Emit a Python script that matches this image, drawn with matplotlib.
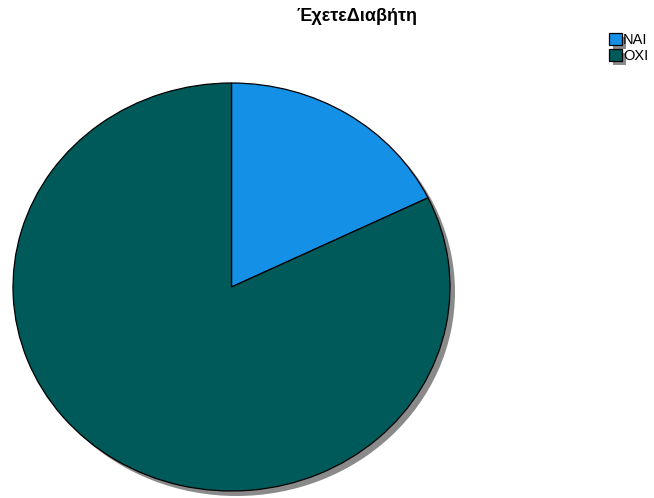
import matplotlib
matplotlib.use("Agg")
import matplotlib.pyplot as plt
from matplotlib import patheffects as pe

plt.rcParams['font.family'] = ['Liberation Sans', 'DejaVu Sans']

title = "ΈχετεΔιαβήτη"
labels = ["NAI", "OXI"]
values = [17.8, 82.2]
colors = ["#1490E6", "#005A5A"]

W, H = 654, 498
fig = plt.figure(figsize=(W / 100, H / 100), dpi=100)

# pie ellipse bounds in pixels (left, right, top, bottom)
l, r, t, b = 13, 450, 83, 491
ax = fig.add_axes([l / W, (H - b) / H, (r - l) / W, (b - t) / H])
ax.set_xlim(-1, 1)
ax.set_ylim(-1, 1)

# shadow
sdx = 5 / ((r - l) / 2)
sdy = 5 / ((b - t) / 2)
sh, _ = ax.pie([sum(values)], colors=["#8a8a8a"], radius=1, center=(sdx, -sdy),
               wedgeprops=dict(linewidth=0))
for w in sh:
    w.set_clip_on(False)
    w.set_zorder(1)

wedges, _ = ax.pie(values, colors=colors, startangle=90, counterclock=False,
                   radius=1, wedgeprops=dict(edgecolor="black", linewidth=0.9))
for w in wedges:
    w.set_clip_on(False)
    w.set_zorder(2)
ax.set_aspect('auto')
ax.set_xlim(-1, 1)
ax.set_ylim(-1, 1)
ax.axis('off')

fig.text(357.5 / W, 1 - 21 / H, title, ha='center', va='baseline',
         fontsize=13, fontweight='bold')

leg = fig.legend(wedges, labels, loc='upper left',
                 bbox_to_anchor=(609 / W, 1 - 33 / H), frameon=False,
                 fontsize=10.5, handlelength=0.9, handleheight=0.9,
                 handletextpad=0.05, labelspacing=0.1, borderpad=0,
                 borderaxespad=0)
for h in leg.legend_handles:
    h.set_linewidth(0.9)
    h.set_edgecolor('black')
    h.set_path_effects([pe.SimplePatchShadow(offset=(3, -3), shadow_rgbFace='#8a8a8a', alpha=1),
                        pe.Normal()])

fig.savefig("out.png", dpi=100)
